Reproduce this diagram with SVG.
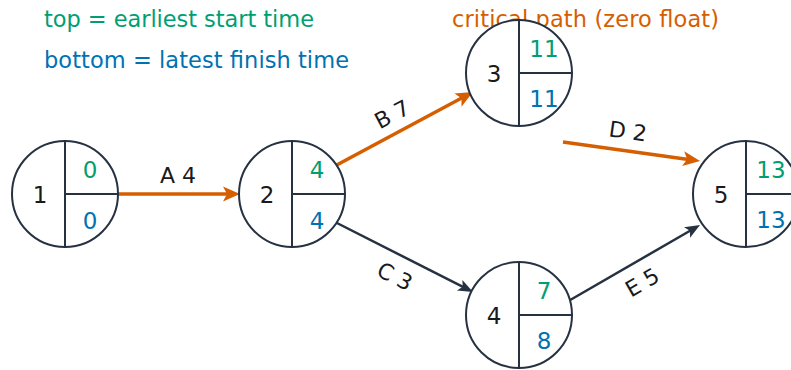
<svg xmlns="http://www.w3.org/2000/svg" width="791" height="370" viewBox="0 0 791 370">
<defs>
<style>
text{font-family:"DejaVu Sans","Liberation Sans",sans-serif;font-size:22px}
.node text{font-size:23px}
.lbl{fill:#1a1a1a;text-anchor:middle}
.es{fill:#009E73;text-anchor:middle}
.lf{fill:#0072B2;text-anchor:middle}
.node circle{fill:#fff;stroke:#263142;stroke-width:2}
.node path{fill:none;stroke:#263142;stroke-width:2}
.crit{stroke:#D55E00;stroke-width:3.5;fill:none}
.norm{stroke:#263142;stroke-width:2.5;fill:none}
.elbl{fill:#1a1a1a;text-anchor:middle}
.leg{font-size:22.5px}
</style>
<marker id="ao" markerUnits="userSpaceOnUse" viewBox="-12 -12 24 24" markerWidth="24" markerHeight="24" refX="0" refY="0" orient="auto">
<path d="M8,0 L-9,-7.5 L-5,0 L-9,7.5 Z" fill="#D55E00"/>
</marker>
<marker id="ad" markerUnits="userSpaceOnUse" viewBox="-10 -10 20 20" markerWidth="20" markerHeight="20" refX="0" refY="0" orient="auto">
<path d="M8,0 L-7,-6 L-3.5,0 L-7,6 Z" fill="#263142"/>
</marker>
</defs>
<rect width="791" height="370" fill="#fff"/>
<g id="legend">
<text class="leg" x="44" y="27" fill="#009E73" textLength="270" lengthAdjust="spacing">top = earliest start time</text>
<text class="leg" x="44" y="68" fill="#0072B2" textLength="305" lengthAdjust="spacing">bottom = latest finish time</text>
<text class="leg" x="452" y="27" fill="#D55E00" textLength="267" lengthAdjust="spacing">critical path (zero float)</text>
</g>
<g id="connectors">
<line class="crit" x1="118" y1="194" x2="232" y2="194" marker-end="url(#ao)"/>
<line class="crit" x1="333" y1="167" x2="465.9" y2="95.8" marker-end="url(#ao)"/>
<line class="norm" x1="333" y1="221" x2="465.9" y2="288.4" marker-end="url(#ad)"/>
<line class="crit" x1="563" y1="142" x2="692.1" y2="159.9" marker-end="url(#ao)"/>
<line class="norm" x1="565" y1="303" x2="693.1" y2="229" marker-end="url(#ad)"/>
<text class="elbl" x="178" y="183">A 4</text>
<text class="elbl" transform="translate(392,114) rotate(-28)" x="0" y="8">B 7</text>
<text class="elbl" transform="translate(395,276) rotate(27)" x="0" y="8">C 3</text>
<text class="elbl" transform="translate(628,131) rotate(8)" x="0" y="8">D 2</text>
<text class="elbl" transform="translate(642,282) rotate(-30)" x="0" y="8">E 5</text>
</g>
<g id="node1" class="node">
<circle cx="65" cy="194" r="53"/>
<path d="M65,141 V247 M65,194 H118"/>
<text class="lbl" x="40" y="203">1</text>
<text class="es" x="90" y="178">0</text>
<text class="lf" x="90" y="229">0</text>
</g>
<g id="node2" class="node">
<circle cx="292" cy="194" r="53"/>
<path d="M292,141 V247 M292,194 H345"/>
<text class="lbl" x="267" y="203">2</text>
<text class="es" x="317" y="178">4</text>
<text class="lf" x="317" y="229">4</text>
</g>
<g id="node3" class="node">
<circle cx="519" cy="73" r="53"/>
<path d="M519,20 V126 M519,73 H572"/>
<text class="lbl" x="494" y="82">3</text>
<text class="es" x="544" y="57">11</text>
<text class="lf" x="544" y="107">11</text>
</g>
<g id="node4" class="node">
<circle cx="519" cy="315" r="53"/>
<path d="M519,262 V368 M519,315 H572"/>
<text class="lbl" x="494" y="324">4</text>
<text class="es" x="544" y="299">7</text>
<text class="lf" x="544" y="349">8</text>
</g>
<g id="node5" class="node">
<circle cx="746" cy="194" r="53"/>
<path d="M746,141 V247 M746,194 H799"/>
<text class="lbl" x="721" y="203">5</text>
<text class="es" x="771" y="178">13</text>
<text class="lf" x="771" y="228">13</text>
</g>
</svg>
